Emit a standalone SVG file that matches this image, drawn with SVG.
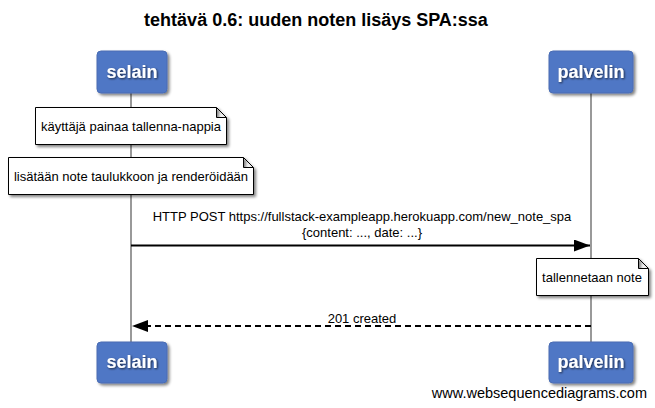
<svg xmlns="http://www.w3.org/2000/svg" width="655" height="408" viewBox="0 0 655 408">
<defs>
<filter id="sh" x="-20%" y="-20%" width="150%" height="160%">
<feGaussianBlur in="SourceAlpha" stdDeviation="1.5"/>
<feOffset dx="2" dy="2" result="b"/>
<feComponentTransfer><feFuncA type="linear" slope="0.5"/></feComponentTransfer>
<feMerge><feMergeNode/><feMergeNode in="SourceGraphic"/></feMerge>
</filter>
<filter id="tsh" x="-10%" y="-20%" width="130%" height="150%">
<feGaussianBlur in="SourceAlpha" stdDeviation="0.8"/>
<feOffset dx="1" dy="1"/>
<feComponentTransfer><feFuncA type="linear" slope="0.7"/></feComponentTransfer>
<feMerge><feMergeNode/><feMergeNode in="SourceGraphic"/></feMerge>
</filter>
<marker id="ah" markerWidth="16" markerHeight="12" refX="16" refY="6" orient="auto" markerUnits="userSpaceOnUse">
<path d="M0,0 L16,6 L0,12 Z" fill="#000"/>
</marker>
</defs>
<style>
.t{font-family:"Liberation Sans",Arial,sans-serif;fill:#000}
.actor rect{fill:#5077C5;stroke:#4a6db3;stroke-width:1}
.actor text{font-family:"Liberation Sans",Arial,sans-serif;font-size:18px;font-weight:bold;fill:#fff;text-anchor:middle}
.note path{fill:#fff;stroke:#000;stroke-width:1}
.note text{font-family:"Liberation Sans",Arial,sans-serif;font-size:13px;fill:#000;text-anchor:middle}
.life{stroke:#999;stroke-width:2}
.msg{font-family:"Liberation Sans",Arial,sans-serif;font-size:13px;fill:#000;text-anchor:middle}
</style>
<rect width="655" height="408" fill="#fff"/>
<text class="t" x="316" y="26" font-size="18" font-weight="bold" text-anchor="middle">tehtävä 0.6: uuden noten lisäys SPA:ssa</text>
<g id="lifelines">
<line class="life" x1="131" y1="93" x2="131" y2="342"/>
<line class="life" x1="591" y1="93" x2="591" y2="342"/>
</g>
<g id="selain-top" class="actor"><rect x="97" y="51" width="70" height="42" rx="4" filter="url(#sh)"/><text x="132" y="78" filter="url(#tsh)">selain</text></g>
<g id="palvelin-top" class="actor"><rect x="549" y="51" width="84" height="42" rx="4" filter="url(#sh)"/><text x="591" y="78" filter="url(#tsh)">palvelin</text></g>
<g id="note1" class="note"><path d="M35.5,107.5 H216.5 L226.5,117.5 V144.5 H35.5 Z M216.5,107.5 V117.5 H226.5" filter="url(#sh)"/><text x="131" y="131">käyttäjä painaa tallenna-nappia</text></g>
<g id="note2" class="note"><path d="M8.5,157.5 H243.5 L253.5,167.5 V194.5 H8.5 Z M243.5,157.5 V167.5 H253.5" filter="url(#sh)"/><text x="131" y="181">lisätään note taulukkoon ja renderöidään</text></g>
<g id="note3" class="note"><path d="M536.5,258.5 H638.5 L648.5,268.5 V295.5 H536.5 Z M638.5,258.5 V268.5 H648.5" filter="url(#sh)"/><text x="592" y="282">tallennetaan note</text></g>
<g id="connectors">
<line x1="131" y1="245.5" x2="590" y2="245.5" stroke="#000" stroke-width="2" marker-end="url(#ah)"/>
<text class="msg" x="362" y="221">HTTP POST https://fullstack-exampleapp.herokuapp.com/new_note_spa</text>
<text class="msg" x="362" y="237">{content: ..., date: ...}</text>
<line x1="591" y1="326" x2="132" y2="326" stroke="#000" stroke-width="2" stroke-dasharray="6,4" marker-end="url(#ah)"/>
<text class="msg" x="362" y="323">201 created</text>
</g>
<g id="selain-bottom" class="actor"><rect x="97" y="342" width="70" height="41" rx="4" filter="url(#sh)"/><text x="132" y="368" filter="url(#tsh)">selain</text></g>
<g id="palvelin-bottom" class="actor"><rect x="549" y="342" width="84" height="41" rx="4" filter="url(#sh)"/><text x="591" y="368" filter="url(#tsh)">palvelin</text></g>
<text class="t" x="647" y="398" font-size="14.5" text-anchor="end">www.websequencediagrams.com</text>
</svg>
